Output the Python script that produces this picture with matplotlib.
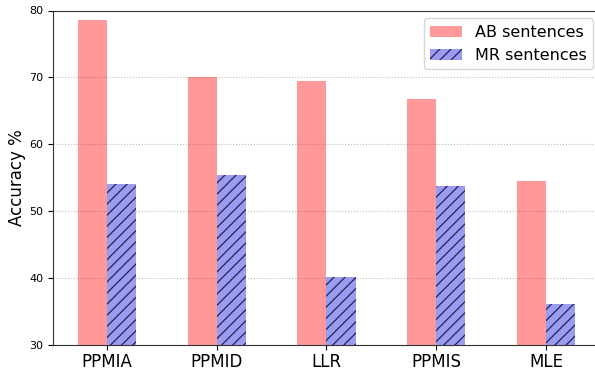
import matplotlib

matplotlib.use("Agg")
import matplotlib.pyplot as plt
import numpy as np

methods = ["PPMIA", "PPMID", "LLR", "PPMIS", "MLE"]
ab_acc = [78.6, 70.0, 69.5, 66.8, 54.5]
mr_acc = [54.1, 55.4, 40.2, 53.7, 36.1]

plt.rcParams["hatch.linewidth"] = 0.9

x = np.arange(len(methods))
width = 0.265

fig = plt.figure(figsize=(5.95, 3.71), dpi=100)
# axes extends a little past the right edge of the canvas
ax = fig.add_axes([53 / 595, 1 - 345 / 371, 548 / 595, 334.5 / 371])

ax.bar(x - width / 2, ab_acc, width, color="red", alpha=0.4, linewidth=0,
       label="AB sentences", zorder=2)
ax.bar(x + width / 2, mr_acc, width, color="#9b9bf0", edgecolor="#22225a",
       hatch="///", linewidth=0, label="MR sentences", zorder=2)

ax.set_ylim(30, 80)
ax.set_xlim(-0.49, 4.5)
ax.set_yticks([30, 40, 50, 60, 70, 80])
ax.set_xticks(x)
ax.set_xticklabels(methods, fontsize=12)
ax.tick_params(axis="x", pad=2)
ax.tick_params(axis="y", labelsize=8)
ax.set_ylabel("Accuracy %", fontsize=12, labelpad=2)
ax.yaxis.grid(True, linestyle=":", color="#bbbbbb", linewidth=0.8, zorder=0)
ax.set_axisbelow(True)
ax.spines["right"].set_visible(False)
for s in ("left", "bottom", "top"):
    ax.spines[s].set_color("#333333")

ax.legend(loc="upper right", fontsize=11.5, handlelength=2.0)

fig.savefig("out.png", dpi=100)
plt.close(fig)
